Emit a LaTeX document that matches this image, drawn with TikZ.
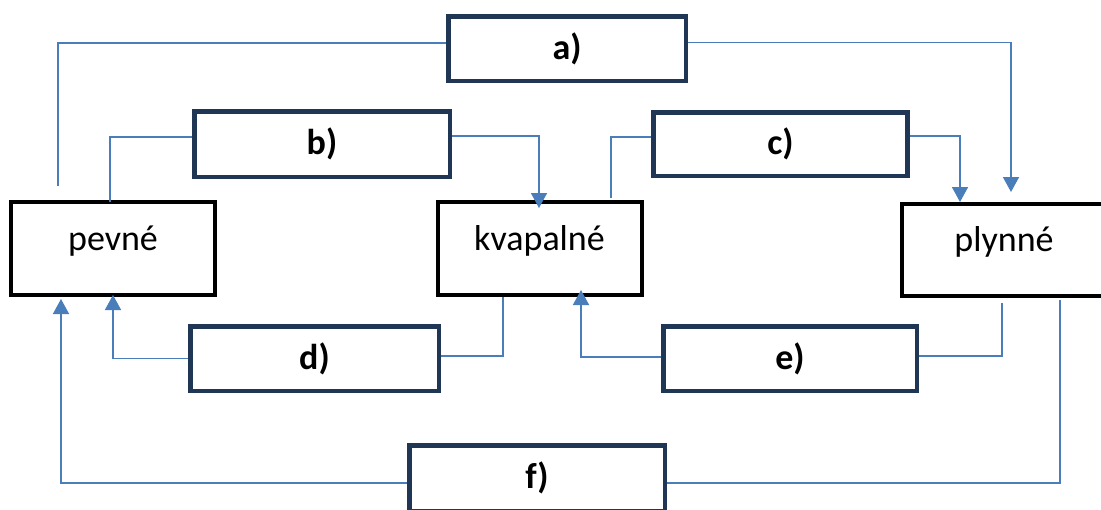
\documentclass[tikz,border=0pt]{standalone}
\usepackage{fontspec}
\setmainfont{Carlito}
\usepackage{tikz}
\usetikzlibrary{positioning}
\usetikzlibrary{arrows.meta}
\definecolor{navy}{RGB}{31,55,84}
\definecolor{lineblue}{RGB}{74,126,187}

\begin{document}
\begin{tikzpicture}[x=1pt,y=-1pt]
			\tikzstyle{state}=[rectangle, draw=black, line width=4pt, minimum width=204pt, minimum height=93pt, inner sep=0pt, text height=27pt, text depth=24pt, font=\fontsize{36}{40}\selectfont]
			\tikzstyle{answer}=[rectangle, draw=navy, line width=4.5pt, minimum width=254pt, minimum height=64.5pt, inner sep=0pt, font=\fontsize{36}{40}\selectfont\bfseries]
			\tikzstyle{conn}=[draw=lineblue, line width=1.6pt]
			\tikzstyle{tip}=[-{Triangle[width=16pt,length=15pt]}]
			
			\useasboundingbox (0,0) rectangle (1101,509);
			
			\draw node at (113, 248.5) [state] (pevne) {pevné};
			\draw node at (539.5, 248.5) [state] (kvapalne) {kvapalné};
			\draw node at (1004, 250) [state, minimum height=92pt] (plynne) {plynné};
			
			\draw node at (567, 48.5) [answer, minimum width=237.5pt] (a) {a)};
			\draw node at (322, 144) [answer, minimum width=255.5pt, minimum height=65.5pt] (b) {b)};
			\draw node at (780.5, 144) [answer, minimum height=63.5pt] (c) {c)};
			\draw node at (314.5, 358.5) [answer, minimum width=248.5pt] (d) {d)};
			\draw node at (790, 358.5) [answer, minimum width=253.5pt] (e) {e)};
			\draw node at (537, 478) [answer, minimum width=255.5pt, minimum height=65.5pt] (f) {f)};
			
			% horne sipky
			\draw [conn]  ([xshift=-55pt,yshift=14pt]pevne.north) |- ([yshift=5.5pt]a.west);
			\draw [conn, tip]  ([yshift=6pt]a.east) -| ([xshift=7pt,yshift=10pt]plynne.north);
			\draw [conn]  ([xshift=-3pt,yshift=-2pt]pevne.north) |- ([yshift=7pt]b.west);
			\draw [conn, tip]  ([yshift=8pt]b.east) -| ([xshift=-0.5pt,yshift=-8pt]kvapalne.north);
			\draw [conn]  ([xshift=71.5pt,yshift=2pt]kvapalne.north) |- ([yshift=7pt]c.west);
			\draw [conn, tip]  ([yshift=8pt]c.east) -| ([xshift=-44pt]plynne.north);
			
			% dolne sipky
			\draw [conn]  ([xshift=-36.5pt]kvapalne.south) |- ([yshift=2.5pt]d.east);
			\draw [conn, tip]  (d.west) -| ([yshift=2pt]pevne.south);
			\draw [conn]  ([xshift=-2pt,yshift=-5pt]plynne.south) |- ([yshift=2.5pt]e.east);
			\draw [conn, tip]  ([yshift=1.5pt]e.west) -| ([xshift=41.5pt,yshift=7pt]kvapalne.south);
			\draw [conn]  ([xshift=56pt,yshift=-2pt]plynne.south) |- ([yshift=-5pt]f.east);
			\draw [conn, tip]  ([yshift=-5pt]f.west) -| ([xshift=-52pt,yshift=-2pt]pevne.south);
\end{tikzpicture}
\end{document}
